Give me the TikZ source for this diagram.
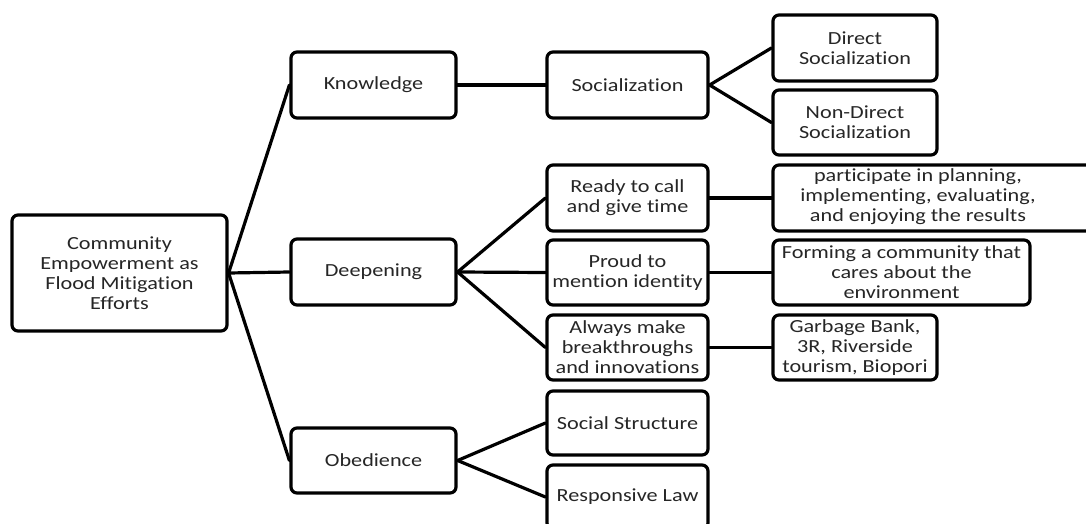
\documentclass[tikz,border=0pt]{standalone}
\usepackage{fontspec}
\setmainfont{Carlito}[FakeStretch=1.2,RawFeature={-liga;-calt;-clig}]
\begin{document}
\begin{tikzpicture}[x=1pt,y=-1pt,
  box/.style={draw=black, line width=3.2pt, rounded corners=6pt, fill=white,
    inner sep=0pt, align=center, text=black!85,
    font=\fontsize{18.5}{20}\selectfont},
  lbl/.style={inner sep=0pt, align=center, text=black!85,
    font=\fontsize{18.5}{20}\selectfont},
  link/.style={line width=3.2pt, line cap=round}]
\clip (0,0) rectangle (1086,524);
\fill[white] (0,0) rectangle (1086,524);
\node[box, minimum width=215pt, minimum height=116pt] (root) at (119.5,273) {Community\\Empowerment as\\Flood Mitigation\\Efforts};
\node[box, minimum width=165pt, minimum height=66pt] (know) at (373.5,85) {Knowledge};
\node[box, minimum width=165pt, minimum height=66pt] (deep) at (373.5,272) {Deepening};
\node[box, minimum width=165pt, minimum height=65pt] (obed) at (373.5,460.5) {Obedience};
\node[box, minimum width=161pt, minimum height=66pt] (soc) at (627.5,85) {Socialization};
\node[box, minimum width=164pt, minimum height=66pt] (dir) at (855,48) {Direct\\Socialization};
\node[box, minimum width=164pt, minimum height=65pt] (ndir) at (855,122.5) {Non-Direct\\Socialization};
\node[box, minimum width=161pt, minimum height=66pt] (ready) at (627.5,198) {Ready to call\\and give time};
\node[box, minimum width=330pt, minimum height=66pt] (part) at (938,198) {};
\node[lbl] (partT) at (918,197) {participate in planning,\\implementing, evaluating,\\and enjoying the results};
\node[box, minimum width=161pt, minimum height=65pt] (proud) at (627.5,272.5) {Proud to\\mention identity};
\node[box, minimum width=257pt, minimum height=65pt] (form) at (901.5,272.5) {Forming a community that\\cares about the\\environment};
\node[box, minimum width=161pt, minimum height=65pt] (always) at (627.5,347.5) {Always make\\breakthroughs\\and innovations};
\node[box, minimum width=164pt, minimum height=65pt] (garb) at (855,347.5) {Garbage Bank,\\3R, Riverside\\tourism, Biopori};
\node[box, minimum width=161pt, minimum height=64pt] (sstr) at (627.5,423) {Social Structure};
\node[box, minimum width=161pt, minimum height=64pt] (rlaw) at (627.5,497) {Responsive Law};
\draw[link] (root.east) -- (know.west);
\draw[link] (root.east) -- (deep.west);
\draw[link] (root.east) -- (obed.west);
\draw[link] (know.east) -- (soc.west);
\draw[link] (soc.east) -- (dir.west);
\draw[link] (soc.east) -- (ndir.west);
\draw[link] (deep.east) -- (ready.west);
\draw[link] (deep.east) -- (proud.west);
\draw[link] (deep.east) -- (always.west);
\draw[link] (ready.east) -- (part.west);
\draw[link] (proud.east) -- (form.west);
\draw[link] (always.east) -- (garb.west);
\draw[link] (obed.east) -- (sstr.west);
\draw[link] (obed.east) -- (rlaw.west);
\end{tikzpicture}
\end{document}
